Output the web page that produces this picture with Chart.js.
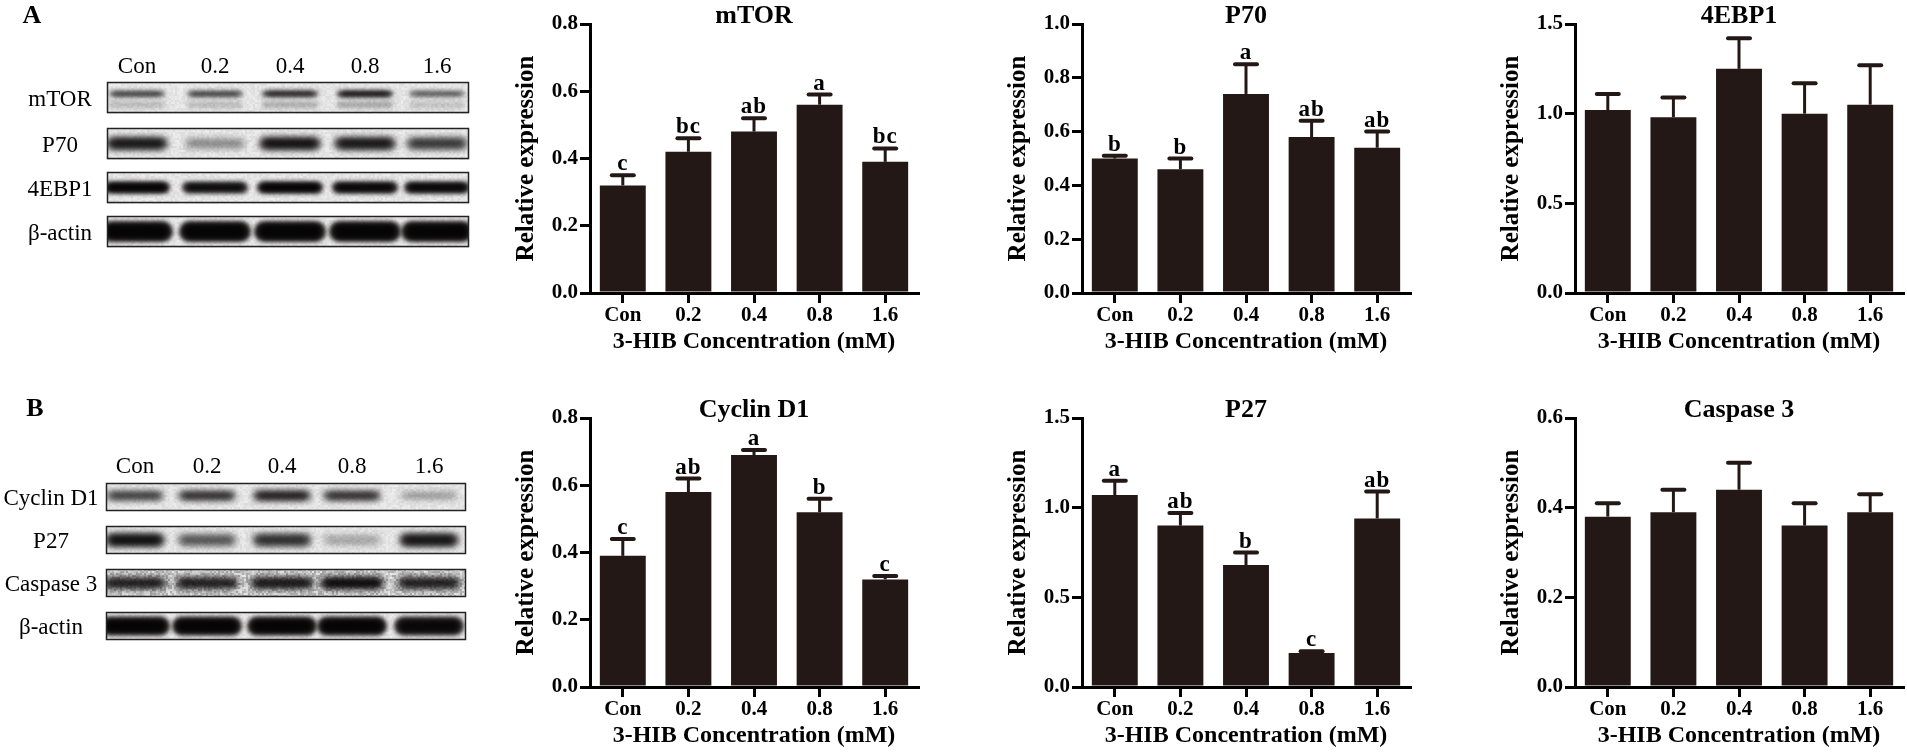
<!DOCTYPE html>
<html>
<head>
<meta charset="utf-8">
<script src="https://cdn.jsdelivr.net/npm/chart.js@4.4.1/dist/chart.umd.min.js"></script>
<style>
html, body { margin: 0; padding: 0; background: #fff; }
body { width: 1907px; height: 753px; position: relative; overflow: hidden; font-family: 'Liberation Serif', 'Times New Roman', serif; color: #000; }
canvas { position: absolute; }
.lbl { position: absolute; font-size: 23px; line-height: 1; white-space: nowrap; transform: translate(-50%, -50%); }
.panel { position: absolute; font-size: 26px; font-weight: bold; line-height: 1; transform: translate(-50%, -50%); }
</style>
</head>
<body>
<canvas id="blots" width="480" height="753" style="left:0;top:0"></canvas>
<div id="texts"></div>
<canvas id="mtorChart" width="460" height="360"></canvas>
<canvas id="p70Chart" width="460" height="360"></canvas>
<canvas id="ebp1Chart" width="460" height="360"></canvas>
<canvas id="cyclinChart" width="460" height="360"></canvas>
<canvas id="p27Chart" width="460" height="360"></canvas>
<canvas id="casp3Chart" width="460" height="360"></canvas>
<script>
// Chart data
const groups = ['Con', '0.2', '0.4', '0.8', '1.6'];
const xTitle = '3-HIB Concentration (mM)';
const yTitle = 'Relative expression';

const mtorMean = [0.32, 0.42, 0.48, 0.56, 0.39];
const mtorSem = [0.03, 0.04, 0.04, 0.03, 0.04];
const mtorLetters = ['c', 'bc', 'ab', 'a', 'bc'];

const p70Mean = [0.50, 0.46, 0.74, 0.58, 0.54];
const p70Sem = [0.01, 0.04, 0.11, 0.06, 0.06];
const p70Letters = ['b', 'b', 'a', 'ab', 'ab'];

const ebp1Mean = [1.02, 0.98, 1.25, 1.00, 1.05];
const ebp1Sem = [0.09, 0.11, 0.17, 0.17, 0.22];

const cyclinMean = [0.39, 0.58, 0.69, 0.52, 0.32];
const cyclinSem = [0.05, 0.04, 0.015, 0.04, 0.01];
const cyclinLetters = ['c', 'ab', 'a', 'b', 'c'];

const p27Mean = [1.07, 0.90, 0.68, 0.19, 0.94];
const p27Sem = [0.08, 0.07, 0.07, 0.01, 0.15];
const p27Letters = ['a', 'ab', 'b', 'c', 'ab'];

const casp3Mean = [0.38, 0.39, 0.44, 0.36, 0.39];
const casp3Sem = [0.03, 0.05, 0.06, 0.05, 0.04];

// Blot lanes and band darkness (0 = none, 1 = black)
const laneNames = ['Con', '0.2', '0.4', '0.8', '1.6'];
const blotRowsA = ['mTOR', 'P70', '4EBP1', 'β-actin'];
const blotRowsB = ['Cyclin D1', 'P27', 'Caspase 3', 'β-actin'];
const mtorBand = [0.6, 0.6, 0.75, 0.85, 0.5];
const p70Band = [0.85, 0.3, 0.9, 0.85, 0.65];
const ebp1Band = [1, 0.9, 1, 0.95, 0.95];
const actinBandA = [1, 1, 1, 1, 1];
const cyclinBand = [0.65, 0.75, 0.85, 0.75, 0.25];
const p27Band = [0.9, 0.5, 0.7, 0.2, 0.85];
const casp3Band = [0.8, 0.8, 0.85, 0.95, 0.8];
const actinBandB = [1, 1, 1, 1, 0.95];

const barColor = '#231815';
const serif = "'Liberation Serif', 'Times New Roman', serif";

// ---------- western blot panels ----------
const Blots = {
    ctx: document.getElementById('blots').getContext('2d'),
    texts: document.getElementById('texts'),

    addText(cls, text, x, y) {
        const d = document.createElement('div');
        d.className = cls;
        d.textContent = text;
        d.style.left = x + 'px';
        d.style.top = y + 'px';
        this.texts.appendChild(d);
    },

    // grainy film background, deterministic hash so it looks the same each run
    grain(x0, top, w, h, base, amp) {
        const ctx = this.ctx;
        for (let y = 0; y < h; y += 2) {
            for (let x = 0; x < w; x += 2) {
                const s = Math.sin((x0 + x) * 12.9898 + (top + y) * 78.233) * 43758.5453;
                const g = Math.round(base - amp * (s - Math.floor(s)));
                ctx.fillStyle = 'rgb(' + g + ',' + g + ',' + g + ')';
                ctx.fillRect(x0 + x, top + y, 2, 2);
            }
        }
    },

    strip(x0, x1, top, h, lanes, dark, opts) {
        const ctx = this.ctx;
        ctx.save();
        if (opts.grain) {
            this.grain(x0, top, x1 - x0, h, 235, 70);
        } else {
            this.grain(x0, top, x1 - x0, h, 238, 18);
        }
        ctx.beginPath();
        ctx.rect(x0, top, x1 - x0, h);
        ctx.clip();
        lanes.forEach((cx, i) => {
            const a = dark[i];
            if (!a) return;
            const w = opts.w, bh = opts.bh * (0.75 + 0.25 * a);
            const cy = top + h * (opts.pos || 0.5);
            ctx.filter = 'blur(' + (opts.blur || 3) + 'px)';
            ctx.fillStyle = 'rgba(20,16,16,' + Math.min(1, a * 0.95).toFixed(2) + ')';
            ctx.beginPath();
            ctx.roundRect(cx - w / 2, cy - bh / 2, w, bh, bh / 2);
            ctx.fill();
            ctx.fillStyle = 'rgba(0,0,0,' + (a * 0.8).toFixed(2) + ')';
            ctx.beginPath();
            ctx.roundRect(cx - w / 2 + 5, cy - bh / 3, w - 10, bh * 2 / 3, bh / 3);
            ctx.fill();
            if (opts.second) {
                ctx.fillStyle = 'rgba(40,40,40,' + (a * 0.4).toFixed(2) + ')';
                ctx.beginPath();
                ctx.roundRect(cx - w / 2, top + h * 0.72 - 3, w, 7, 3);
                ctx.fill();
            }
        });
        ctx.restore();
        ctx.save();
        ctx.strokeStyle = '#222';
        ctx.lineWidth = 1.5;
        ctx.strokeRect(x0 + 0.5, top + 0.5, x1 - x0 - 1, h - 1);
        ctx.restore();
    },

    draw() {
        // Panel A
        this.addText('panel', 'A', 32, 15);
        const lanesA = [137, 215, 290, 365, 437];
        laneNames.forEach((n, i) => this.addText('lbl', n, lanesA[i], 65));
        const topsA = [82, 128, 172, 216];
        blotRowsA.forEach((n, i) => this.addText('lbl', n, 60, topsA[i] + 16));
        this.strip(107, 469, topsA[0], 31, lanesA, mtorBand, { w: 56, bh: 7, pos: 0.38, blur: 2, second: true });
        this.strip(107, 469, topsA[1], 31, lanesA, p70Band, { w: 62, bh: 13, blur: 3 });
        this.strip(107, 469, topsA[2], 31, lanesA, ebp1Band, { w: 66, bh: 12, blur: 2 });
        this.strip(107, 469, topsA[3], 31, lanesA, actinBandA, { w: 72, bh: 21, blur: 2 });

        // Panel B
        this.addText('panel', 'B', 35, 408);
        const lanesB = [135, 207, 282, 352, 429];
        laneNames.forEach((n, i) => this.addText('lbl', n, lanesB[i], 465));
        const topsB = [483, 526, 569, 612];
        blotRowsB.forEach((n, i) => this.addText('lbl', n, 51, topsB[i] + 14));
        this.strip(106, 466, topsB[0], 28, lanesB, cyclinBand, { w: 58, bh: 10, pos: 0.45, blur: 3 });
        this.strip(106, 466, topsB[1], 28, lanesB, p27Band, { w: 60, bh: 14, blur: 3 });
        this.strip(106, 466, topsB[2], 28, lanesB, casp3Band, { w: 64, bh: 12, blur: 3, grain: true });
        this.strip(106, 466, topsB[3], 28, lanesB, actinBandB, { w: 70, bh: 19, blur: 2 });
    }
};

// ---------- bar charts ----------
function decorPlugin(title, mean, sem, letters) {
    return {
        id: 'decor',
        afterDatasetsDraw(chart) {
            const { ctx, chartArea, scales: { y } } = chart;
            const meta = chart.getDatasetMeta(0);
            ctx.save();
            ctx.strokeStyle = barColor;
            ctx.fillStyle = '#000';
            meta.data.forEach((bar, i) => {
                const top = y.getPixelForValue(mean[i] + sem[i]);
                ctx.lineWidth = 3;
                ctx.lineCap = 'butt';
                ctx.beginPath();
                ctx.moveTo(bar.x, bar.y);
                ctx.lineTo(bar.x, top);
                ctx.stroke();
                ctx.lineWidth = 4;
                ctx.lineCap = 'round';
                ctx.beginPath();
                ctx.moveTo(bar.x - 11, top);
                ctx.lineTo(bar.x + 11, top);
                ctx.stroke();
                if (letters) {
                    ctx.font = 'bold 23px ' + serif;
                    ctx.letterSpacing = '1px';
                    ctx.textAlign = 'center';
                    ctx.textBaseline = 'alphabetic';
                    ctx.fillText(letters[i], bar.x, top - 5);
                }
            });
            ctx.letterSpacing = '0px';
            ctx.font = 'bold 26px ' + serif;
            ctx.textAlign = 'center';
            ctx.textBaseline = 'alphabetic';
            ctx.fillText(title, (chartArea.left + chartArea.right) / 2, chartArea.top - 1);
            ctx.restore();
        }
    };
}

function makeChart(id, axisX, plotTop, title, mean, sem, letters, max, step) {
    const el = document.getElementById(id);
    el.style.left = (axisX - 120) + 'px';
    el.style.top = (plotTop - 24) + 'px';
    const axisLine = { display: true, drawOnChartArea: false, drawTicks: true, tickLength: 10, lineWidth: 3, color: '#000' };
    return new Chart(el.getContext('2d'), {
        type: 'bar',
        data: {
            labels: groups,
            datasets: [{
                data: mean,
                backgroundColor: barColor,
                borderWidth: 0,
                barPercentage: 0.7,
                categoryPercentage: 1
            }]
        },
        options: {
            responsive: false,
            animation: false,
            devicePixelRatio: 1,
            layout: { padding: { top: 24, right: 12, left: 0, bottom: 0 } },
            plugins: { legend: { display: false }, tooltip: { enabled: false } },
            scales: {
                x: {
                    grid: Object.assign({ offset: false }, axisLine),
                    border: { display: true, width: 3, color: '#000' },
                    ticks: { color: '#000', padding: 0, maxRotation: 0, font: { family: serif, size: 21, weight: 'bold' } },
                    title: { display: true, text: xTitle, color: '#000', padding: { top: 0, bottom: 4 }, font: { family: serif, size: 24, weight: 'bold' } },
                    afterFit: s => { s.height = 67; }
                },
                y: {
                    min: 0,
                    max: max,
                    grid: axisLine,
                    border: { display: true, width: 3, color: '#000' },
                    ticks: { stepSize: step, color: '#000', padding: 2, callback: v => v.toFixed(1), font: { family: serif, size: 21, weight: 'bold' } },
                    title: { display: true, text: yTitle, color: '#000', padding: { top: 42, bottom: 0 }, font: { family: serif, size: 25, weight: 'bold' } },
                    afterFit: s => { s.width = 120; }
                }
            }
        },
        plugins: [decorPlugin(title, mean, sem, letters)]
    });
}

document.addEventListener('DOMContentLoaded', () => {
    Blots.draw();
    makeChart('mtorChart', 590, 24, 'mTOR', mtorMean, mtorSem, mtorLetters, 0.8, 0.2);
    makeChart('p70Chart', 1082, 24, 'P70', p70Mean, p70Sem, p70Letters, 1.0, 0.2);
    makeChart('ebp1Chart', 1575, 24, '4EBP1', ebp1Mean, ebp1Sem, null, 1.5, 0.5);
    makeChart('cyclinChart', 590, 418, 'Cyclin D1', cyclinMean, cyclinSem, cyclinLetters, 0.8, 0.2);
    makeChart('p27Chart', 1082, 418, 'P27', p27Mean, p27Sem, p27Letters, 1.5, 0.5);
    makeChart('casp3Chart', 1575, 418, 'Caspase 3', casp3Mean, casp3Sem, null, 0.6, 0.2);
});
</script>
</body>
</html>
